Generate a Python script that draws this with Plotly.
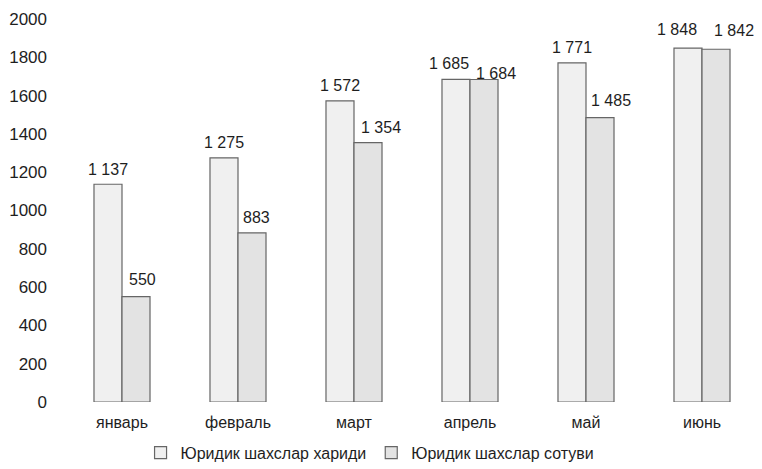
import plotly.graph_objects as go

months = ["январь", "февраль", "март", "апрель", "май", "июнь"]
purchase = [1137, 1275, 1572, 1685, 1771, 1848]
sales = [550, 883, 1354, 1684, 1485, 1842]
series_names = ["Юридик шахслар хариди", "Юридик шахслар сотуви"]
y_ticks = [0, 200, 400, 600, 800, 1000, 1200, 1400, 1600, 1800, 2000]

FAM = "Liberation Sans, Arial, sans-serif"
INK = "#1e1e1e"
lab_font = dict(family=FAM, size=16, color=INK)
xtick_font = dict(family=FAM, size=16, color=INK)
ytick_font = dict(family=FAM, size=17, color=INK)

# label nudges in pixels (horizontal offset from group centre, vertical lift)
shift_purchase = [-14, -14, -14, -21, -14, -25]
shift_sales = [20, 18, 27, 26, 25, 32]
lift_purchase = [4, 5, 5, 5, 5, 8]
lift_sales = [7, 5, 5, -4, 7, 8]

fig = go.Figure()
fig.add_trace(go.Bar(x=months, y=purchase, name=series_names[0],
                     marker=dict(color="#f0f0f0", line=dict(color="#666666", width=1.2))))
fig.add_trace(go.Bar(x=months, y=sales, name=series_names[1],
                     marker=dict(color="#e3e3e3", line=dict(color="#666666", width=1.2))))


def fmt(v):
    return f"{v:,}".replace(",", " ")


for vals, shifts, lifts in ((purchase, shift_purchase, lift_purchase),
                            (sales, shift_sales, lift_sales)):
    for m, v, s, l in zip(months, vals, shifts, lifts):
        fig.add_annotation(x=m, y=v, text=fmt(v), showarrow=False,
                           xshift=s, yshift=l, yanchor="bottom",
                           font=lab_font)

fig.update_layout(
    width=754, height=461,
    margin=dict(l=56, r=2, t=11, b=67, autoexpand=False),
    paper_bgcolor="white", plot_bgcolor="white",
    barmode="group", bargap=0.517, bargroupgap=0,
    font=lab_font,
    showlegend=True,
    legend=dict(orientation="h", x=0.11, xanchor="left", y=-0.088, yanchor="top",
                font=dict(family=FAM, size=16, color=INK),
                itemwidth=30, tracegroupgap=0, borderwidth=0),
    xaxis=dict(showline=False, showgrid=False, ticks="", tickfont=xtick_font,
               ticklabelstandoff=9, automargin=False),
    yaxis=dict(range=[0, 2000], tickvals=y_ticks, showgrid=False, showline=False,
               zeroline=False, ticks="", tickfont=ytick_font, ticklabelstandoff=16,
               tickformat="d", automargin=False),
)

fig.write_html("out.html")
